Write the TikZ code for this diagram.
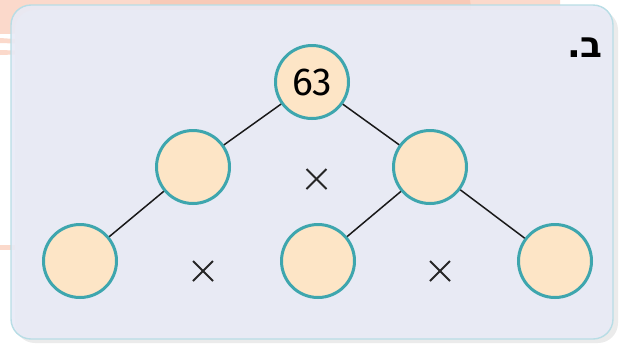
\documentclass[tikz,border=0pt]{standalone}
\usepackage{fontspec}
\setmainfont{Fira Sans}
\newfontfamily\hebfont[Script=Hebrew]{DejaVu Sans}
\TeXXeTstate=1
\definecolor{boxfill}{HTML}{E8EAF6}
\definecolor{boxedge}{HTML}{B8DDE5}
\definecolor{ballfill}{HTML}{FDE5C6}
\definecolor{balledge}{HTML}{3EA6AE}
\definecolor{streak}{HTML}{FBD9CB}
\definecolor{streakdark}{HTML}{F7C3AE}
\tikzset{
  ball/.style={circle, draw=balledge, line width=3pt, fill=ballfill, minimum size=73pt, inner sep=0pt},
  link/.style={line width=1.5pt, black!90},
  times/.style={line width=1.9pt, black!85},
}
\begin{document}
\begin{tikzpicture}[x=1pt,y=-1pt]
\useasboundingbox (0,0) rectangle (624,346);
% paper streaks
\fill[streak] (0,0) -- (560,0) -- (560,20) -- (400,26) -- (0,34) -- cycle;
\fill[streakdark, opacity=0.7] (150,0) -- (470,0) -- (472,14) -- (150,14) -- cycle;
\fill[streak] (0,38) -- (30,40) -- (30,44) -- (0,43) -- cycle;
\fill[streak] (0,50) -- (30,51) -- (30,54) -- (0,55) -- cycle;
\fill[streak] (0,245) -- (15,245) -- (15,250) -- (0,250) -- cycle;
% card shadow
\fill[black!8, rounded corners=20pt] (15,10) rectangle (618,343);
% card
\draw[boxedge, line width=1.4pt, fill=boxfill, fill opacity=0.9, rounded corners=20pt] (11,5) rectangle (613,339);
% label
\node[font=\hebfont\bfseries\fontsize{36}{36}\selectfont, anchor=base east, inner sep=0pt] (lbl) at (603,57) {\beginR ב.\endR};
% circles
\node[ball] (top) at (312,82) {\fontsize{39}{39}\selectfont 63};
\node[ball] (ml) at (193,167) {};
\node[ball] (mr) at (430,167) {};
\node[ball] (bl) at (80,261) {};
\node[ball] (bm) at (318,261) {};
\node[ball] (br) at (555,261) {};
% connectors
\draw[link] (top) -- (ml);
\draw[link] (top) -- (mr);
\draw[link] (ml) -- (bl);
\draw[link] (mr) -- (bm);
\draw[link] (mr) -- (br);
% times signs
\foreach \n/\px/\py in {t1/316.5/179, t2/203/271, t3/440/271}{
  \coordinate (\n) at (\px,\py);
  \draw[times] ([shift={(-10,-10)}]\n) -- ([shift={(10,10)}]\n);
  \draw[times] ([shift={(-10,10)}]\n) -- ([shift={(10,-10)}]\n);
}
\end{tikzpicture}
\end{document}
